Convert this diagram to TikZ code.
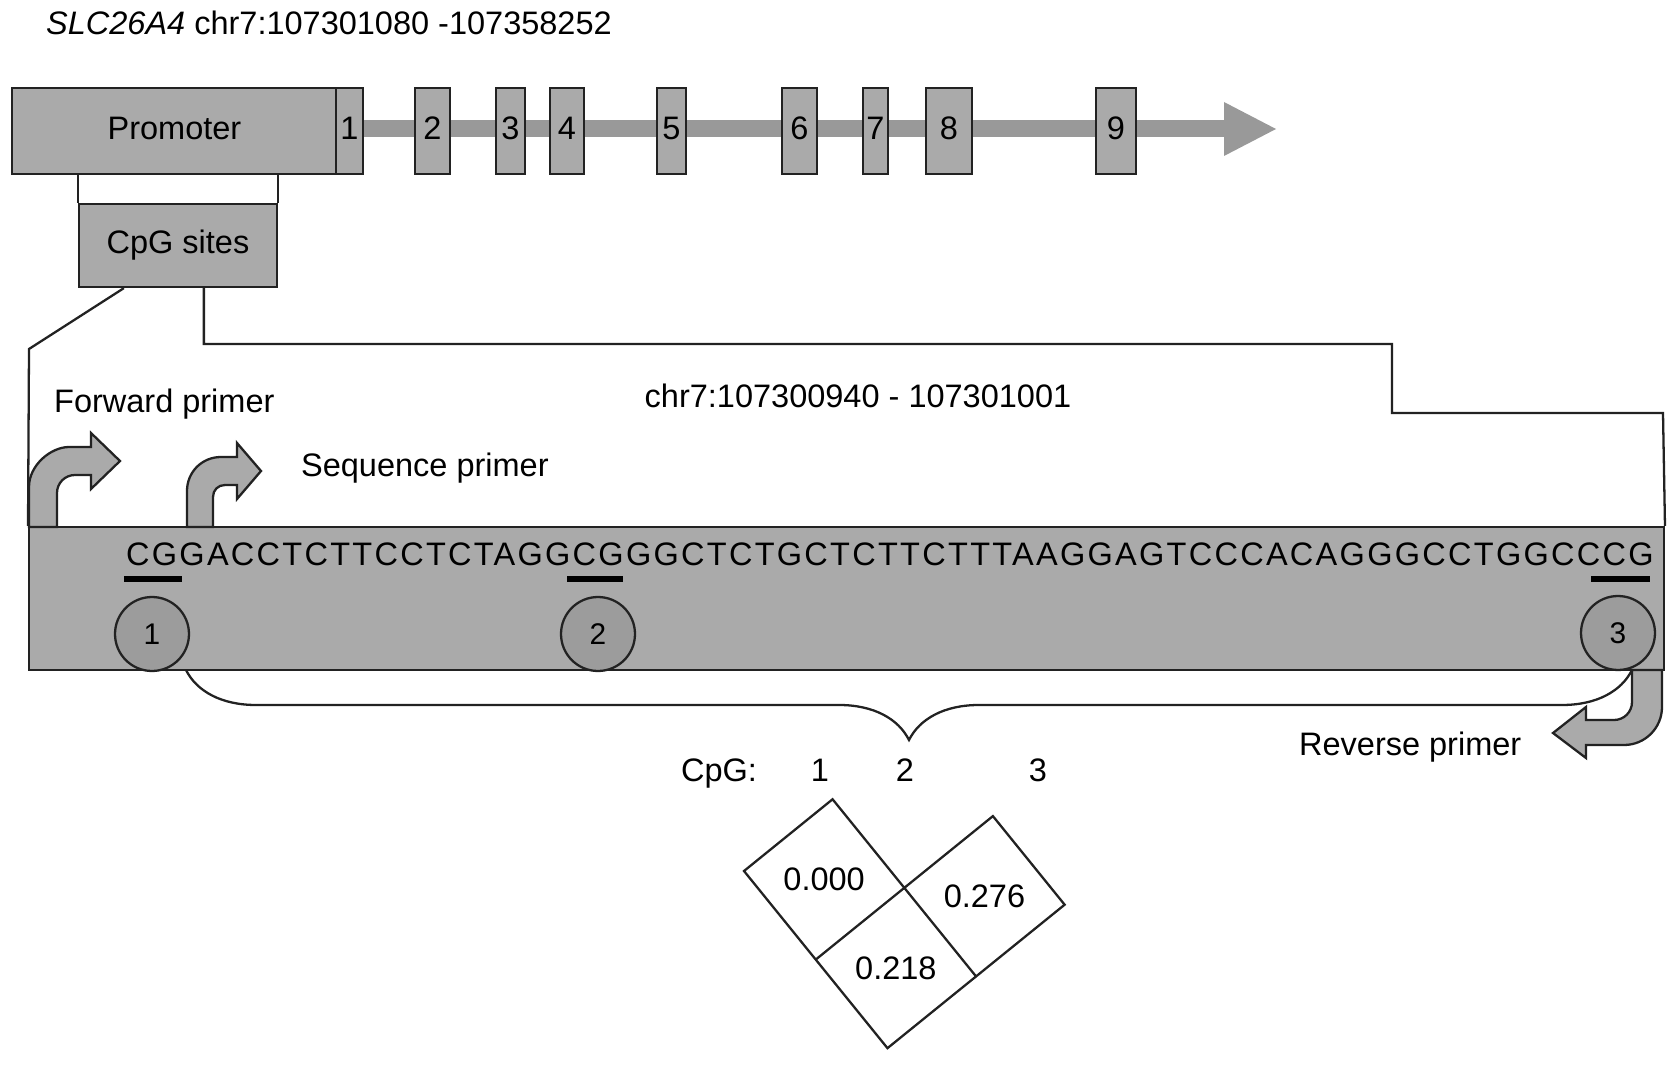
\documentclass[tikz,border=0pt]{standalone}
\usepackage{fontspec}
\setmainfont{Liberation Sans}
\newfontfamily\seqfamily[LetterSpace=7]{Liberation Sans}
\usepackage{tikz}
\usetikzlibrary{decorations.pathreplacing}

\definecolor{boxgray}{HTML}{AAAAAA}
\definecolor{bargray}{HTML}{999999}
\definecolor{dotgray}{HTML}{9C9C9C}
\definecolor{inkgray}{HTML}{222222}

\begin{document}
\begin{tikzpicture}[
      x=0.02cm, y=-0.02cm,
      line width=1.3pt, draw=inkgray,
      font=\fontsize{18.5}{21}\selectfont,
      tag/.style={inner sep=0pt, anchor=base west},
      mid/.style={inner sep=0pt, anchor=base},
      genebox/.style={draw=inkgray, fill=boxgray, inner sep=0pt, minimum height=1.72cm, text depth=0.3em},
      cpgbox/.style={draw=inkgray, fill=boxgray, inner sep=0pt, minimum width=3.96cm, minimum height=1.66cm},
      seqbox/.style={draw=inkgray, fill=boxgray, inner sep=0pt, minimum width=32.7cm, minimum height=2.86cm},
      site/.style={circle, draw=inkgray, fill=dotgray, inner sep=0pt, minimum size=1.48cm, font=\fontsize{17}{20}\selectfont},
      cgmark/.style={line width=0.12cm, black},
      primer/.style={draw=inkgray, fill=boxgray},
      genebar/.style={line width=0.34cm, bargray},
      cell/.style={draw=inkgray}
  ]
    \useasboundingbox (0,0) rectangle (1678,1071);

    % gene model
    \node[tag] (title) at (45,35) {\textit{SLC26A4} chr7:107301080 -107358252};
    \draw[genebar] (337,129) -- (1225,129);
    \fill[bargray] (1224,102) -- (1276,129) -- (1224,156) -- cycle;
    \node[genebox, minimum width=6.5cm] (promoter) at (174.5,131) {Promoter};
    \foreach \n/\a/\b in {1/336/363, 2/415/450, 3/496/525, 4/550/584, 5/657/686,
                          6/782/817, 7/863/888, 8/926/972, 9/1096/1136} {
        \node[genebox, minimum width={(\b-\a)*0.02cm}] (e\n) at ({(\a+\b)/2},131) {\n};
    }
    \node[cpgbox] (cpg) at (178,245.5) {CpG sites};
    \draw (cpg.north west) -- (cpg.north west |- promoter.south);
    \draw (cpg.north east) -- (cpg.north east |- promoter.south);

    % amplicon
    \node[seqbox] (seq) at (846.5,598.5) {};
    \coordinate (bendL) at (29,349);
    \draw (cpg.south west) ++(46,0) -- (bendL) -- (seq.north west);
    \draw (cpg.south west) ++(126,0) |- (1392,344) |- (1663,413) -- (seq.north east);
    \node[mid] (region) at (858,407) {chr7:107300940 - 107301001};

    % primers
    \draw[primer] (29,527) -- (29,487) .. controls (29,465) and (51,447) .. (69,447) -- (91,447) -- (91,433)
        -- (120,461) -- (91,489) -- (91,475) -- (75,475) .. controls (65,475) and (57,483) .. (57,493) -- (57,527) -- cycle;
    \node[tag] (fwd) at (53,413) {Forward primer};
    \draw[primer] (187,527) -- (187,491) .. controls (187,472) and (202,457) .. (221,457) -- (237,457) -- (237,443)
        -- (261,471) -- (237,499) -- (237,485) -- (225,485) .. controls (218,485) and (213,490) .. (213,497) -- (213,527) -- cycle;
    \node[tag] (seqp) at (300,477) {Sequence primer};

    \node[tag, font=\seqfamily\fontsize{18.5}{21}\selectfont] (dna) at (125,565)
        {CGGACCTCTTCCTCTAGGCGGGCTCTGCTCTTCTTTAAGGAGTCCCACAGGGCCTGGCCCG};
    \draw[cgmark] (124,579) -- (182,579);
    \draw[cgmark] (567,579) -- (623,579);
    \draw[cgmark] (1591,579) -- (1650,579);
    \node[site] (s1) at (152,634) {1};
    \node[site] (s2) at (598,634) {2};
    \node[site] (s3) at (1618,633) {3};

    \draw[primer] (1632,670) -- (1632,702) .. controls (1632,712) and (1624,720) .. (1614,720) -- (1586,720) -- (1586,707)
        -- (1553,733) -- (1586,758) -- (1586,745) -- (1624,745) .. controls (1645,745) and (1662,728) .. (1662,707) -- (1662,670) -- cycle;
    \node[tag] (rev) at (1298,755) {Reverse primer};

    \coordinate (braceL) at (186,670);
    \coordinate (braceR) at (1632,670);
    \draw[decorate, decoration={brace, mirror, amplitude=1.4cm}] (braceL) -- (braceR);

    % methylation correlation
    \node[tag] (cpglab) at (680,781) {CpG:};
    \node[mid] (n1) at (820,781) {1};
    \node[mid] (n2) at (905,781) {2};
    \node[mid] (n3) at (1038,781) {3};
    \begin{scope}[shift={(744,871)}, x={(1.772cm,1.435cm)}, y={(1.435cm,-1.772cm)}]
      \draw[cell] (0,0) -- (1,0) -- (1,1) -- (2,1) -- (2,2) -- (0,2) -- cycle;
      \draw[cell] (0,1) -- (1,1) -- (1,2);
      \node at (0.5,0.5) {0.000};
      \node at (0.5,1.5) {0.218};
      \node at (1.5,1.5) {0.276};
    \end{scope}
  \end{tikzpicture}
\end{document}
